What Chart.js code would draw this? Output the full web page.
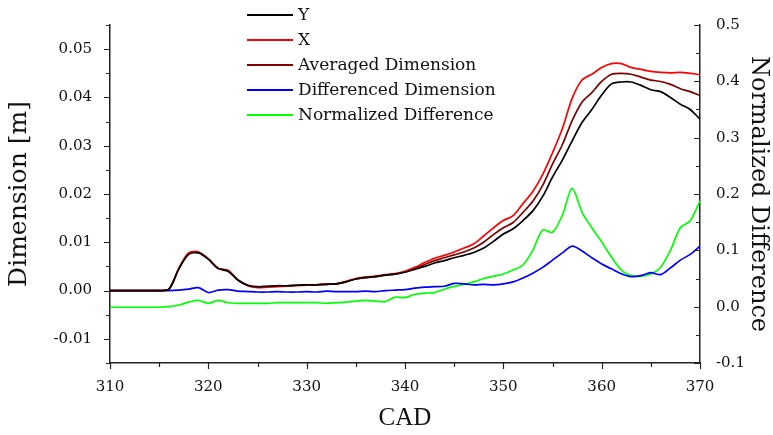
<!DOCTYPE html>
<html>
<head>
<meta charset="utf-8">
<script src="https://cdn.jsdelivr.net/npm/chart.js@4.4.1/dist/chart.umd.min.js"></script>
<style>
  html, body { margin: 0; padding: 0; background: #fff; }
  #wrap { width: 773px; height: 435px; }
</style>
</head>
<body>
<div id="wrap"><canvas id="chart" width="773" height="435"></canvas></div>
<script>
// crank angle (CAD)
const cad = [310, 311, 312, 313, 314, 315, 316, 317, 318, 319,
             320, 321, 322, 323, 324, 325, 326, 327, 328, 329,
             330, 331, 332, 333, 334, 335, 336, 337, 338, 339,
             340, 341, 342, 343, 344, 345, 346, 347, 348, 349,
             350, 351, 352, 353, 354, 355, 356, 357, 358, 359,
             360, 361, 362, 363, 364, 365, 366, 367, 368, 369, 370];

// Y dimension [m]
const dimY = [0, 0, 0, 0, 0, 0, 0.0003, 0.0045, 0.0075, 0.0078,
              0.0065, 0.0046, 0.004, 0.0022, 0.0011, 0.0008, 0.0009, 0.001, 0.001, 0.0011,
              0.0012, 0.0012, 0.0013, 0.0014, 0.0018, 0.0024, 0.0027, 0.0029, 0.0032, 0.0034,
              0.0038, 0.0044, 0.005, 0.0057, 0.0062, 0.0068, 0.0073, 0.0079, 0.0088, 0.0102,
              0.0117, 0.0128, 0.0145, 0.0165, 0.0195, 0.0235, 0.027, 0.031, 0.0348, 0.0375,
              0.0405, 0.0428, 0.0432, 0.0432, 0.0425, 0.0416, 0.0412, 0.04, 0.0386, 0.0375, 0.0355];

// X dimension [m]
const dimX = [0, 0, 0, 0, 0, 0, 0.0003, 0.0046, 0.0078, 0.008,
              0.0066, 0.0046, 0.0042, 0.0022, 0.001, 0.0006, 0.0007, 0.0008, 0.0009, 0.001,
              0.0011, 0.0012, 0.0013, 0.0014, 0.0019, 0.0025, 0.0028, 0.003, 0.0033, 0.0035,
              0.004, 0.0048, 0.0058, 0.0067, 0.0073, 0.008, 0.0088, 0.0097, 0.0113, 0.013,
              0.0145, 0.0155, 0.018, 0.0205, 0.024, 0.0285, 0.0335, 0.0398, 0.0436, 0.0448,
              0.0462, 0.047, 0.047, 0.0462, 0.0458, 0.0454, 0.0452, 0.0451, 0.0452, 0.045, 0.0447];

// averaged dimension [m]
const dimAvg = [0, 0, 0, 0, 0, 0, 0.0003, 0.0045, 0.0077, 0.0079,
                0.0065, 0.0046, 0.0041, 0.0022, 0.0011, 0.0007, 0.0008, 0.0009, 0.001, 0.0011,
                0.0012, 0.0012, 0.0013, 0.0014, 0.0018, 0.0024, 0.0027, 0.0029, 0.0032, 0.0034,
                0.0039, 0.0046, 0.0054, 0.0062, 0.0068, 0.0074, 0.008, 0.0088, 0.01, 0.0116,
                0.013, 0.0141, 0.0162, 0.0185, 0.0218, 0.0262, 0.0302, 0.0352, 0.039, 0.041,
                0.0433, 0.0448, 0.045, 0.0448, 0.0442, 0.0436, 0.0433, 0.0427, 0.0418, 0.0412, 0.0404];

// differenced dimension [m]
const dimDiff = [0, 0, 0, 0, 0, 0, 0, 0.0001, 0.0003, 0.0006,
                 -0.0004, 0.0001, 0.0002, -0.0001, -0.0002, -0.0003, -0.0003, -0.0002, -0.0003, -0.0003,
                 -0.0002, -0.0003, -0.0001, -0.0002, -0.0002, -0.0002, -0.0001, -0.0002, 0, 0.0001,
                 0.0002, 0.0005, 0.0007, 0.0008, 0.0009, 0.0015, 0.0014, 0.0012, 0.0013, 0.0012,
                 0.0014, 0.0018, 0.0026, 0.0036, 0.0048, 0.0063, 0.0078, 0.0092, 0.0082, 0.0068,
                 0.0055, 0.0045, 0.0035, 0.0029, 0.0031, 0.0037, 0.0033, 0.0047, 0.0063, 0.0075, 0.0092];

// normalized difference (right axis)
const normDiff = [-0.001, -0.001, -0.001, -0.001, -0.001, -0.001, 0, 0.003, 0.008, 0.011,
                  0.006, 0.011, 0.007, 0.006, 0.006, 0.006, 0.006, 0.007, 0.007, 0.007,
                  0.007, 0.007, 0.006, 0.007, 0.008, 0.01, 0.011, 0.01, 0.009, 0.017,
                  0.016, 0.022, 0.024, 0.025, 0.031, 0.036, 0.04, 0.044, 0.05, 0.054,
                  0.058, 0.065, 0.074, 0.1, 0.136, 0.132, 0.162, 0.21, 0.168, 0.14,
                  0.115, 0.088, 0.065, 0.055, 0.054, 0.058, 0.07, 0.1, 0.14, 0.152, 0.188];

const xTicks = [310, 320, 330, 340, 350, 360, 370];
const leftTicks = [-0.01, 0, 0.01, 0.02, 0.03, 0.04, 0.05];
const rightTicks = [-0.1, 0, 0.1, 0.2, 0.3, 0.4, 0.5];

const seriesNames = ["Y", "X", "Averaged Dimension", "Differenced Dimension", "Normalized Difference"];
const seriesColors = ["#000000", "#ff0000", "#800000", "#0000ff", "#00ff00"];

const AXIS = "#222";
const SERIF = "'DejaVu Serif', serif";

function pts(vals) {
    return cad.map((c, i) => ({ x: c, y: vals[i] }));
}

const allSeries = [dimY, dimX, dimAvg, dimDiff, normDiff];
const datasets = allSeries.map((vals, i) => ({
    label: seriesNames[i],
    data: pts(vals),
    borderColor: seriesColors[i],
    backgroundColor: seriesColors[i],
    borderWidth: 1.7,
    pointRadius: 0,
    tension: 0.3,
    fill: false,
    yAxisID: i === 4 ? "y2" : "y"
}));

// legend drawn inside the plot, top middle
const insideLegend = {
    id: "insideLegend",
    afterDraw(chart) {
        const ctx = chart.ctx;
        ctx.save();
        ctx.font = "17px " + SERIF;
        ctx.textBaseline = "middle";
        chart.data.datasets.forEach((ds, i) => {
            const y = 15 + i * 25;
            ctx.strokeStyle = ds.borderColor;
            ctx.lineWidth = 2;
            ctx.beginPath();
            ctx.moveTo(247, y);
            ctx.lineTo(293, y);
            ctx.stroke();
            ctx.fillStyle = "#111";
            ctx.fillText(ds.label, 298, y + 1);
        });
        ctx.restore();
    }
};

// major + minor tick marks
const tickMarks = {
    id: "tickMarks",
    afterDraw(chart) {
        const ctx = chart.ctx;
        const area = chart.chartArea;
        const sx = chart.scales.x, sy = chart.scales.y, sy2 = chart.scales.y2;
        ctx.save();
        ctx.strokeStyle = AXIS;
        ctx.lineWidth = 1.2;
        ctx.beginPath();
        for (let v = 310; v <= 370.001; v += 5) {
            const px = Math.round(sx.getPixelForValue(v)) + 0.5;
            const len = (Math.round(v) % 10 === 0) ? 6 : 4;
            ctx.moveTo(px, area.bottom);
            ctx.lineTo(px, area.bottom + len);
        }
        for (let k = -3; k <= 11; k++) {
            const v = k * 0.005;
            const py = Math.round(sy.getPixelForValue(v)) + 0.5;
            const len = (k % 2 === 0) ? 6 : 4;
            ctx.moveTo(area.left, py);
            ctx.lineTo(area.left - len, py);
        }
        for (let k = -2; k <= 10; k++) {
            const v = k * 0.05;
            const py = Math.round(sy2.getPixelForValue(v)) + 0.5;
            const len = (k % 2 === 0) ? 6 : 4;
            ctx.moveTo(area.right, py);
            ctx.lineTo(area.right - len, py);
        }
        ctx.stroke();
        ctx.restore();
    }
};

const ctx = document.getElementById("chart").getContext("2d");
new Chart(ctx, {
    type: "line",
    data: { datasets: datasets },
    options: {
        responsive: false,
        animation: false,
        layout: { padding: { top: 25, left: 0, right: 0, bottom: 0 } },
        plugins: {
            legend: { display: false },
            tooltip: { enabled: false }
        },
        scales: {
            x: {
                type: "linear",
                min: 310,
                max: 370,
                afterBuildTicks: s => { s.ticks = xTicks.map(v => ({ value: v })); },
                afterFit: s => { s.height = 72; },
                grid: { display: false },
                border: { color: AXIS, width: 1.5 },
                ticks: {
                    color: "#111",
                    padding: 7,
                    font: { family: SERIF, size: 15 },
                    maxRotation: 0,
                    callback: v => String(v)
                },
                title: {
                    display: true,
                    text: "CAD",
                    color: "#111",
                    font: { family: "'Liberation Serif', serif", size: 25 },
                    padding: { top: 0, bottom: 2 }
                }
            },
            y: {
                position: "left",
                min: -0.015,
                max: 0.055,
                afterBuildTicks: s => { s.ticks = leftTicks.map(v => ({ value: v })); },
                afterFit: s => { s.width = 110; },
                grid: { display: false },
                border: { color: AXIS, width: 1.5 },
                ticks: {
                    color: "#111",
                    padding: 10,
                    font: { family: SERIF, size: 15 },
                    callback: v => v.toFixed(2)
                },
                title: {
                    display: true,
                    text: "Dimension [m]",
                    color: "#111",
                    font: { family: SERIF, size: 25 },
                    padding: { top: 4, bottom: 0 }
                }
            },
            y2: {
                position: "right",
                min: -0.1,
                max: 0.5,
                afterBuildTicks: s => { s.ticks = rightTicks.map(v => ({ value: v })); },
                afterFit: s => { s.width = 73; },
                grid: { display: false },
                border: { color: AXIS, width: 1.5 },
                ticks: {
                    color: "#111",
                    padding: 8,
                    font: { family: SERIF, size: 15 },
                    callback: v => v.toFixed(1)
                },
                title: {
                    display: true,
                    text: "Normalized Difference",
                    color: "#111",
                    font: { family: SERIF, size: 24 },
                    padding: { top: 0, bottom: 1 }
                }
            }
        }
    },
    plugins: [tickMarks, insideLegend]
});
</script>
</body>
</html>
